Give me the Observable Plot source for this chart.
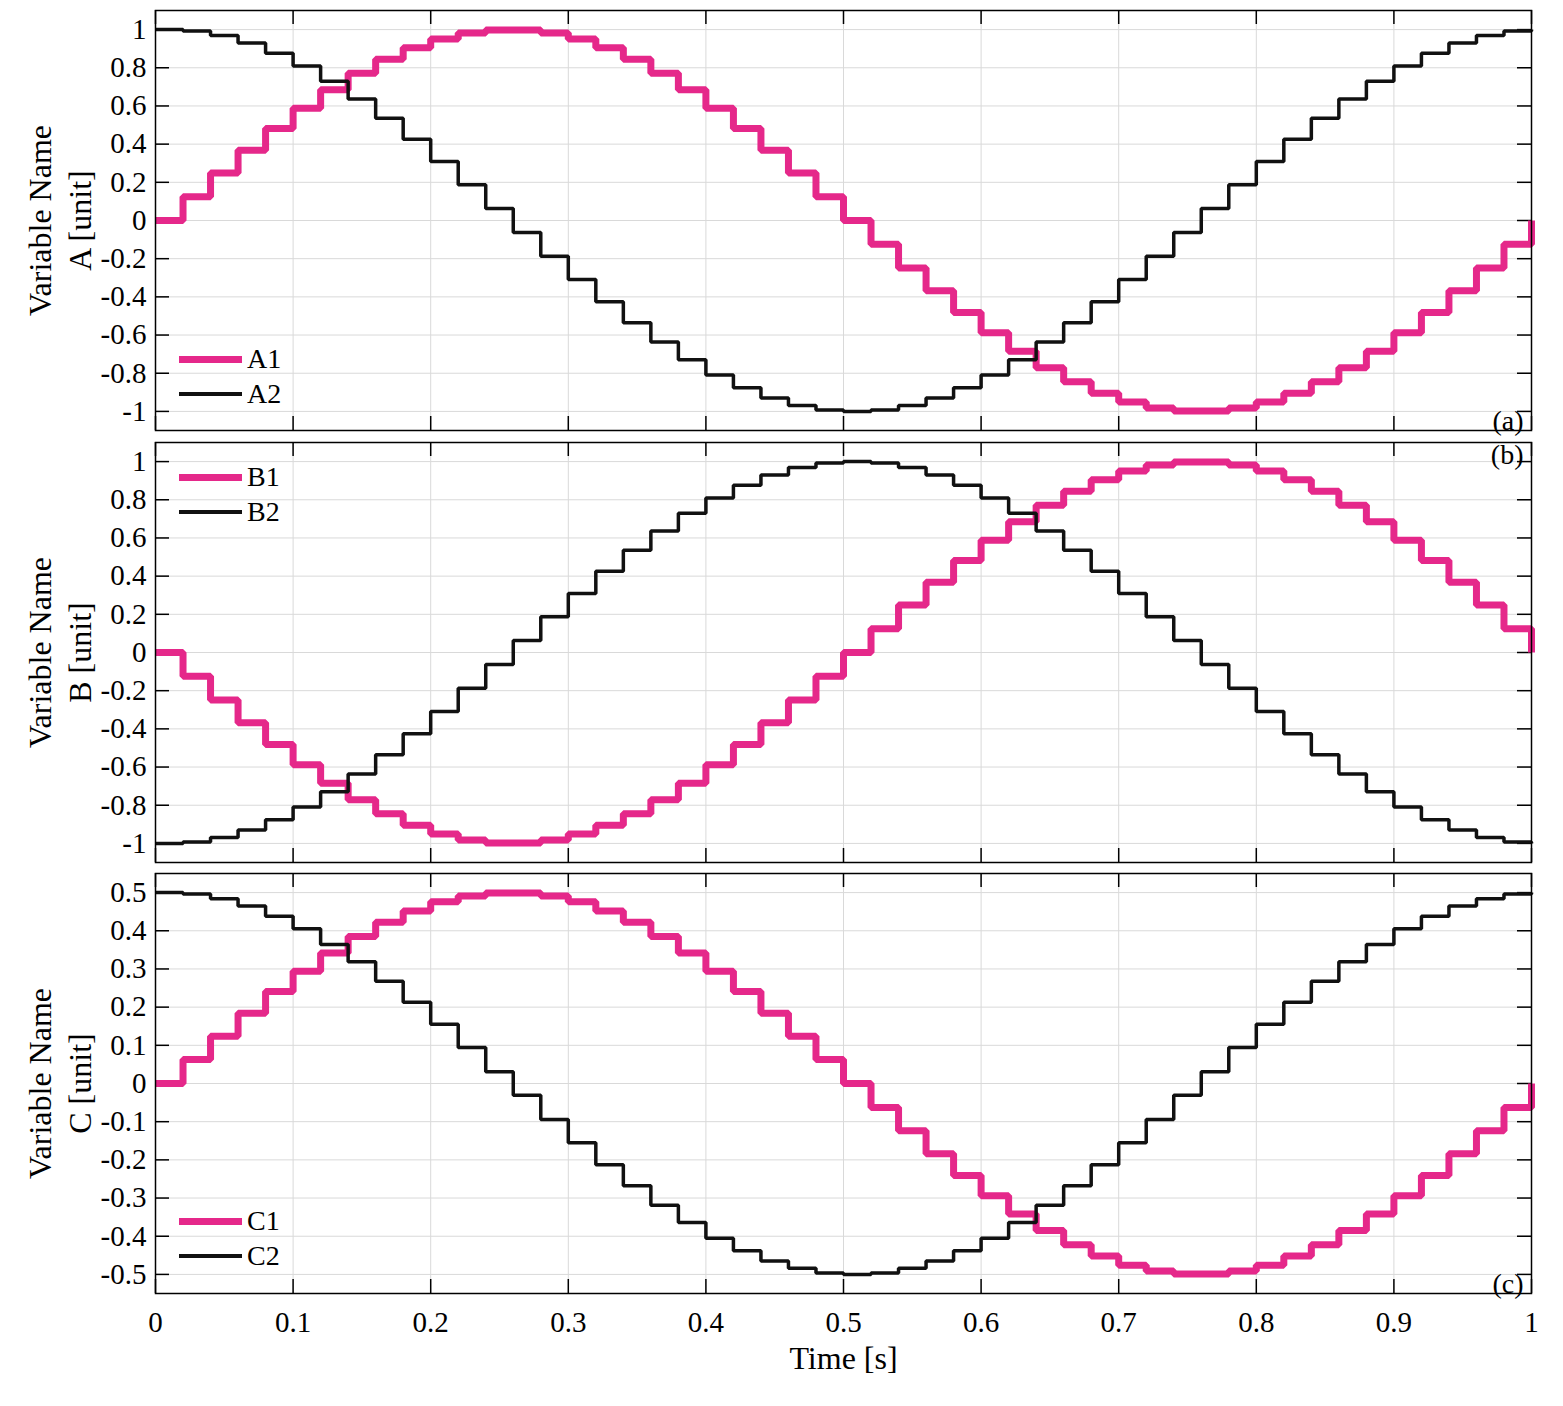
<!DOCTYPE html>
<html>
<head>
<meta charset="utf-8">
<script src="https://cdn.jsdelivr.net/npm/d3@7"></script>
<script src="https://cdn.jsdelivr.net/npm/@observablehq/plot@0.6"></script>
<style>
  body { margin: 0; background: #fff; }
  #fig { position: relative; width: 1563px; height: 1406px; background: #fff;
         font-family: "Liberation Serif", "Times New Roman", serif; }
  .panel { position: absolute; left: 0; }
  .leg { position: absolute; display: flex; align-items: center; height: 36px;
         font-size: 28px; color: #000; line-height: 36px; }
  .leg span.sw { display: inline-block; width: 63px; margin-right: 5px; }
</style>
</head>
<body>
<div id="fig"></div>
<script>
// ---------------- data ----------------
const time = [0,0.02,0.04,0.06,0.08,0.1,0.12,0.14,0.16,0.18,0.2,0.22,0.24,0.26,0.28,0.3,0.32,0.34,0.36,0.38,0.4,0.42,0.44,0.46,0.48,0.5,0.52,0.54,0.56,0.58,0.6,0.62,0.64,0.66,0.68,0.7,0.72,0.74,0.76,0.78,0.8,0.82,0.84,0.86,0.88,0.9,0.92,0.94,0.96,0.98,1];

const A1 = [0,0.125,0.249,0.368,0.482,0.588,0.685,0.771,0.844,0.905,0.951,0.982,0.998,0.998,0.982,0.951,0.905,0.844,0.771,0.685,0.588,0.482,0.368,0.249,0.125,0,-0.125,-0.249,-0.368,-0.482,-0.588,-0.685,-0.771,-0.844,-0.905,-0.951,-0.982,-0.998,-0.998,-0.982,-0.951,-0.905,-0.844,-0.771,-0.685,-0.588,-0.482,-0.368,-0.249,-0.125,0];
const A2 = [1,0.992,0.969,0.930,0.876,0.809,0.729,0.637,0.536,0.426,0.309,0.187,0.063,-0.063,-0.187,-0.309,-0.426,-0.536,-0.637,-0.729,-0.809,-0.876,-0.930,-0.969,-0.992,-1,-0.992,-0.969,-0.930,-0.876,-0.809,-0.729,-0.637,-0.536,-0.426,-0.309,-0.187,-0.063,0.063,0.187,0.309,0.426,0.536,0.637,0.729,0.809,0.876,0.930,0.969,0.992,1];

const B1 = [0,-0.125,-0.249,-0.368,-0.482,-0.588,-0.685,-0.771,-0.844,-0.905,-0.951,-0.982,-0.998,-0.998,-0.982,-0.951,-0.905,-0.844,-0.771,-0.685,-0.588,-0.482,-0.368,-0.249,-0.125,0,0.125,0.249,0.368,0.482,0.588,0.685,0.771,0.844,0.905,0.951,0.982,0.998,0.998,0.982,0.951,0.905,0.844,0.771,0.685,0.588,0.482,0.368,0.249,0.125,0];
const B2 = [-1,-0.992,-0.969,-0.930,-0.876,-0.809,-0.729,-0.637,-0.536,-0.426,-0.309,-0.187,-0.063,0.063,0.187,0.309,0.426,0.536,0.637,0.729,0.809,0.876,0.930,0.969,0.992,1,0.992,0.969,0.930,0.876,0.809,0.729,0.637,0.536,0.426,0.309,0.187,0.063,-0.063,-0.187,-0.309,-0.426,-0.536,-0.637,-0.729,-0.809,-0.876,-0.930,-0.969,-0.992,-1];

const C1 = [0,0.063,0.124,0.184,0.241,0.294,0.342,0.385,0.422,0.452,0.476,0.491,0.499,0.499,0.491,0.476,0.452,0.422,0.385,0.342,0.294,0.241,0.184,0.124,0.063,0,-0.063,-0.124,-0.184,-0.241,-0.294,-0.342,-0.385,-0.422,-0.452,-0.476,-0.491,-0.499,-0.499,-0.491,-0.476,-0.452,-0.422,-0.385,-0.342,-0.294,-0.241,-0.184,-0.124,-0.063,0];
const C2 = [0.5,0.496,0.484,0.465,0.438,0.405,0.364,0.319,0.268,0.213,0.155,0.094,0.031,-0.031,-0.094,-0.155,-0.213,-0.268,-0.319,-0.364,-0.405,-0.438,-0.465,-0.484,-0.496,-0.5,-0.496,-0.484,-0.465,-0.438,-0.405,-0.364,-0.319,-0.268,-0.213,-0.155,-0.094,-0.031,0.031,0.094,0.155,0.213,0.268,0.319,0.364,0.405,0.438,0.465,0.484,0.496,0.5];

const xTicks = [0,0.1,0.2,0.3,0.4,0.5,0.6,0.7,0.8,0.9,1];
const yTicksAB = [-1,-0.8,-0.6,-0.4,-0.2,0,0.2,0.4,0.6,0.8,1];
const yTicksC = [-0.5,-0.4,-0.3,-0.2,-0.1,0,0.1,0.2,0.3,0.4,0.5];
const yDomainAB = [-1.1, 1.1];
const yDomainC = [-0.55, 0.55];

const seriesNamesA = ["A1", "A2"];
const seriesNamesB = ["B1", "B2"];
const seriesNamesC = ["C1", "C2"];
const yLabels = ["Variable Name\nA [unit]", "Variable Name\nB [unit]", "Variable Name\nC [unit]"];
const panelTags = ["(a)", "(b)", "(c)"];
const xLabel = "Time [s]";

// ---------------- styles ----------------
const PINK = "#E5288A";
const BLACK = "#111111";
const GRID = "#d9d9d9";
const FONT = "'Liberation Serif', 'Times New Roman', serif";
const W = 1563, ML = 155, MR = 32, FH = 420;
const FW = W - ML - MR;
const TICK = 14;

function panel({s1, s2, yDomain, yTicks, yLabel, tag, tagTop, showX, top, height, mb}) {
  const d1 = time.map((t, i) => ({t, v: s1[i]}));
  const d2 = time.map((t, i) => ({t, v: s2[i]}));
  const fmt = d => String(d);
  const marks = [
    Plot.ruleX(xTicks, {x: d => d, stroke: GRID, strokeWidth: 1}),
    Plot.ruleY(yTicks, {y: d => d, stroke: GRID, strokeWidth: 1}),
    // inward ticks
    Plot.tickY(yTicks, {y: d => d, insetRight: FW - TICK, stroke: "#000", strokeWidth: 1.5}),
    Plot.tickY(yTicks, {y: d => d, insetLeft: FW - TICK, stroke: "#000", strokeWidth: 1.5}),
    Plot.tickX(xTicks, {x: d => d, insetBottom: FH - TICK, stroke: "#000", strokeWidth: 1.5}),
    Plot.tickX(xTicks, {x: d => d, insetTop: FH - TICK, stroke: "#000", strokeWidth: 1.5}),
    Plot.line(d1, {x: "t", y: "v", curve: "step-after", stroke: PINK, strokeWidth: 7,
                   strokeLinejoin: "miter", strokeLinecap: "butt"}),
    Plot.line(d2, {x: "t", y: "v", curve: "step-after", stroke: BLACK, strokeWidth: 3.5,
                   strokeLinejoin: "miter", strokeLinecap: "butt"}),
    Plot.frame({stroke: "#000", strokeWidth: 1.5}),
    Plot.text([yLabel], {text: d => d, frameAnchor: "left", textAnchor: "middle", lineAnchor: "middle",
                         rotate: -90, dx: -97, fontSize: 32, lineHeight: 1.22, fill: "#000"}),
    Plot.text([tag], {text: d => d, frameAnchor: tagTop ? "top-right" : "bottom-right",
                      textAnchor: "end", lineAnchor: tagTop ? "top" : "bottom",
                      dx: -8, dy: tagTop ? 2 : -1, fontSize: 28, fill: "#000"})
  ];
  if (showX) {
    marks.push(Plot.text([xLabel], {text: d => d, frameAnchor: "bottom", textAnchor: "middle",
                                    lineAnchor: "middle", dy: 65, fontSize: 32, fill: "#000"}));
  }
  const svg = Plot.plot({
    width: W, height,
    marginLeft: ML, marginRight: MR, marginTop: 10, marginBottom: mb,
    style: {fontFamily: FONT, fontSize: "29px", color: "#000", background: "transparent", overflow: "visible"},
    x: showX
      ? {domain: [0, 1], ticks: xTicks, tickSize: 0, tickPadding: 18, tickFormat: fmt, label: null}
      : {domain: [0, 1], axis: null},
    y: {domain: yDomain, ticks: yTicks, tickSize: 0, tickPadding: 9, tickFormat: fmt, label: null},
    marks
  });
  svg.classList.add("panel");
  svg.style.top = top + "px";
  svg.style.position = "absolute";
  svg.style.left = "0px";
  return svg;
}

function legend(names, x, y1, y2) {
  const frag = document.createDocumentFragment();
  [[names[0], PINK, 7, y1], [names[1], BLACK, 3.5, y2]].forEach(([n, c, w, y]) => {
    const div = document.createElement("div");
    div.className = "leg";
    div.style.left = x + "px";
    div.style.top = (y - 18) + "px";
    const sw = document.createElement("span");
    sw.className = "sw";
    sw.style.height = w + "px";
    sw.style.background = c;
    const tx = document.createElement("span");
    tx.textContent = n;
    div.appendChild(sw);
    div.appendChild(tx);
    frag.appendChild(div);
  });
  return frag;
}

const fig = document.getElementById("fig");
fig.appendChild(panel({s1: A1, s2: A2, yDomain: yDomainAB, yTicks: yTicksAB, yLabel: yLabels[0],
                       tag: panelTags[0], tagTop: false, showX: false, top: 0, height: 440, mb: 10}));
fig.appendChild(panel({s1: B1, s2: B2, yDomain: yDomainAB, yTicks: yTicksAB, yLabel: yLabels[1],
                       tag: panelTags[1], tagTop: true, showX: false, top: 432, height: 440, mb: 10}));
fig.appendChild(panel({s1: C1, s2: C2, yDomain: yDomainC, yTicks: yTicksC, yLabel: yLabels[2],
                       tag: panelTags[2], tagTop: false, showX: true, top: 863, height: 543, mb: 113}));
fig.appendChild(legend(seriesNamesA, 179, 359, 394));
fig.appendChild(legend(seriesNamesB, 179, 477, 512));
fig.appendChild(legend(seriesNamesC, 179, 1221, 1256));
</script>
</body>
</html>
